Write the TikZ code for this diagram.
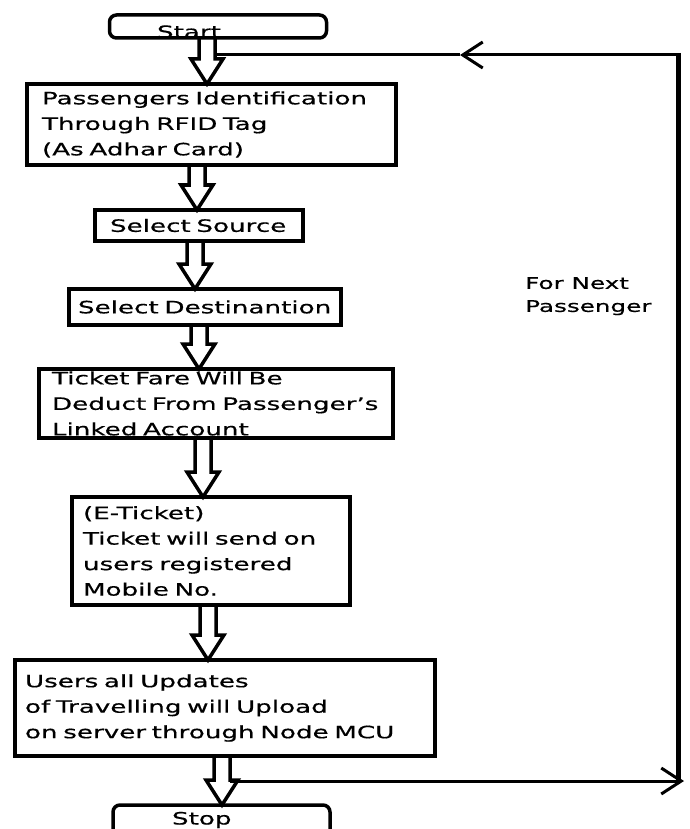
\documentclass[tikz,border=0pt]{standalone}
\usepackage{fontspec}
\setmainfont[FakeStretch=1.54,FakeBold=0.5]{DejaVu Sans}
\usetikzlibrary{calc,arrows.meta}
\tikzset{
  txt/.style={font=\fontsize{17pt}{25.5pt}\selectfont},
  box/.style={txt, draw, line width=3.5pt, outer sep=0pt, anchor=north west,
    inner ysep=0pt, align=left},
  term/.style={txt, draw, line width=3.5pt, outer sep=0pt, rounded corners=7pt,
    inner sep=0pt, minimum width=217pt},
  barrow/.style={draw, line width=3.5pt, line join=miter},
  loopline/.style={draw, line width=3pt},
  barb/.style={-{Straight Barb[length=20pt,width=26pt]}}
}
\newcommand\blockarrow[3]{%
  \draw[barrow] let \p1=(#2.south), \p2=(#3.north) in
    (#1pt-8pt,\y1) -- (#1pt-8pt,\y2+25pt) -- (#1pt-16pt,\y2+25pt) -- (#1pt,\y2)
    -- (#1pt+16pt,\y2+25pt) -- (#1pt+8pt,\y2+25pt) -- (#1pt+8pt,\y1);}
\begin{document}
\begin{tikzpicture}[x=1pt,y=-1pt]
\useasboundingbox[fill=white] (0,0) rectangle (689,829);

\node[term, minimum height=23pt] (start) at (218,26.5)
  {\raisebox{-11.5pt}[0pt][0pt]{\makebox[0pt][l]{\hspace*{-61pt}Start}}};

\node[box, minimum height=81pt, text width=339pt, inner xsep=15pt] (b1) at (27,84)
  {\mbox{Passengers Identification}\\\mbox{Through RFID Tag}\\\mbox{(As Adhar Card)}};
\node[box, minimum height=31pt, text width=178pt, inner xsep=15pt] (b2) at (95,210)
  {\mbox{Select Source}};
\node[box, minimum height=36pt, text width=254pt, inner xsep=9pt] (b3) at (69,289)
  {\mbox{Select Destinantion}};
\node[box, minimum height=69pt, text width=328pt, inner xsep=13pt] (b4) at (39,369)
  {\mbox{Ticket Fare Will Be}\\\mbox{Deduct From Passenger's}\\\mbox{Linked Account}};
\node[box, minimum height=108pt, text width=256pt, inner xsep=11pt] (b5) at (72,497)
  {\mbox{(E-Ticket)}\\\mbox{Ticket will send on}\\\mbox{users registered}\\\mbox{Mobile No.}};
\node[box, minimum height=96pt, text width=400pt, inner xsep=10pt] (b6) at (15,660)
  {\mbox{Users all Updates}\\\mbox{of Travelling will Upload}\\\mbox{on server through Node MCU}};

\node[term, minimum height=38pt] (stop) at (221.5,824)
  {\raisebox{-0.5pt}[0pt][0pt]{\makebox[0pt][l]{\hspace*{-49.5pt}Stop}}};

\blockarrow{207}{start}{b1}
\blockarrow{197}{b1}{b2}
\blockarrow{195}{b2}{b3}
\blockarrow{199}{b3}{b4}
\blockarrow{203}{b4}{b5}
\blockarrow{208}{b5}{b6}
\blockarrow{222}{b6}{stop}

\coordinate (ltop) at (215,55);
\coordinate (tiptop) at (460,55);
\coordinate (rtop) at (678,55);
\coordinate (rbot) at (678,781);
\coordinate (lbot) at (230,781);
\coordinate (tipbot) at (684,781);

\draw[line width=5pt] ($(rtop)+(0,-2)$) -- (rbot);
\draw[loopline, barb] (lbot) -- (tipbot);
\draw[loopline, barb] (rtop) -- (tiptop);
\draw[loopline] (tiptop) -- (ltop);

\node[txt, anchor=north west, align=left, inner sep=0pt,
  font=\fontsize{16pt}{23pt}\selectfont] (lbl) at (525,277)
  {For Next\\Passenger};
\end{tikzpicture}
\end{document}
